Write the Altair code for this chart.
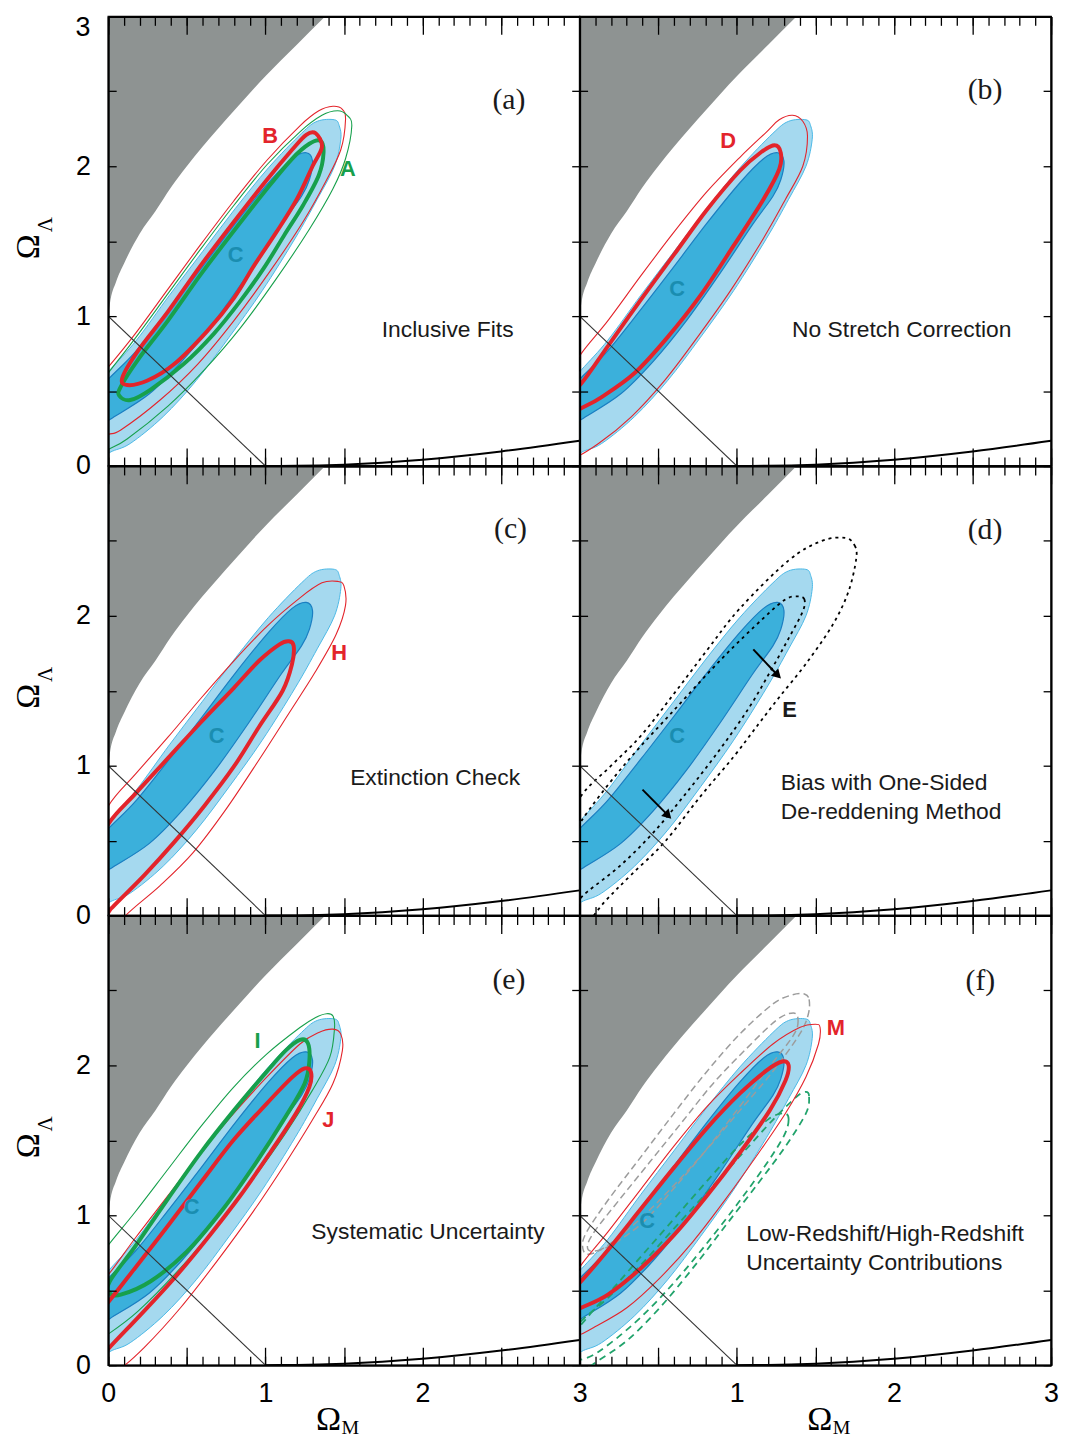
import altair as alt
import pandas as pd

W, H = 475, 453

GRAY = "#8e9392"
LIGHT = "#a5d9ef"
LIGHT_EDGE = "#4cb8e6"
DARK = "#3bb0db"
DARK_EDGE = "#1b7fc2"
RED = "#e3242b"
GREEN = "#17a04c"
CTEXT = "#1a8db0"
GDASH = "#9c9c9c"
GRDASH = "#21a36b"

# ---------------- data ----------------
BB_OM = [0.0, 0.01, 0.05, 0.1, 0.2, 0.3, 0.4, 0.5, 0.6, 0.8, 1.0, 1.2, 1.4, 1.45]
BB_OL = [1.0, 1.08, 1.23, 1.35, 1.55, 1.70, 1.86, 2.0, 2.13, 2.37, 2.60, 2.81, 3.02, 3.07]
RC_OM = [1.0, 1.2, 1.5, 2.0, 2.5, 3.0]
RC_OL = [0.0, 0.001, 0.009, 0.042, 0.097, 0.168]
FL_OM = [0.0, 1.0]
FL_OL = [1.0, 0.0]

C90_X = [1.44, 1.47, 1.48, 1.44, 1.33, 1.19, 0.98, 0.77, 0.56, 0.35, 0.14, 0.01, -0.10, -0.20, -0.15, 0.01, 0.18, 0.39, 0.60, 0.81, 1.02, 1.23, 1.33]
C90_Y = [2.31, 2.27, 2.18, 2.00, 1.78, 1.52, 1.17, 0.86, 0.57, 0.33, 0.15, 0.09, 0.00, 0.10, 0.45, 0.64, 0.84, 1.14, 1.43, 1.72, 1.99, 2.22, 2.30]
C68_X = [1.26, 1.30, 1.28, 1.23, 1.10, 0.89, 0.68, 0.47, 0.26, 0.01, -0.12, -0.20, -0.15, 0.01, 0.18, 0.39, 0.60, 0.81, 1.02, 1.17]
C68_Y = [2.09, 2.035, 1.91, 1.80, 1.61, 1.28, 0.97, 0.70, 0.48, 0.31, 0.22, 0.25, 0.42, 0.59, 0.77, 1.045, 1.33, 1.62, 1.89, 2.05]

B68_X = [1.32, 1.36, 1.30, 1.20, 1.07, 0.93, 0.80, 0.63, 0.42, 0.25, 0.12, 0.09, 0.19, 0.38, 0.59, 0.80, 1.01, 1.17, 1.26]
B68_Y = [2.22, 2.13, 2.00, 1.78, 1.56, 1.34, 1.12, 0.90, 0.68, 0.57, 0.54, 0.59, 0.77, 1.03, 1.34, 1.63, 1.91, 2.11, 2.21]
A68_X = [1.35, 1.37, 1.34, 1.24, 1.12, 0.99, 0.84, 0.67, 0.48, 0.27, 0.14, 0.07, 0.08, 0.19, 0.38, 0.59, 0.80, 1.01, 1.17, 1.28]
A68_Y = [2.17, 2.09, 1.94, 1.74, 1.54, 1.32, 1.10, 0.88, 0.68, 0.51, 0.44, 0.47, 0.53, 0.71, 0.97, 1.28, 1.57, 1.85, 2.05, 2.15]
B90_X = [1.43, 1.49, 1.51, 1.48, 1.38, 1.24, 1.03, 0.80, 0.57, 0.33, 0.08, 0.00, -0.10, -0.18, -0.12, 0.00, 0.17, 0.38, 0.59, 0.80, 1.01, 1.22, 1.34]
B90_Y = [2.40, 2.38, 2.31, 2.11, 1.89, 1.63, 1.30, 0.97, 0.68, 0.44, 0.24, 0.21, 0.15, 0.25, 0.52, 0.66, 0.88, 1.18, 1.48, 1.77, 2.04, 2.27, 2.37]
A90_X = [1.46, 1.52, 1.55, 1.51, 1.43, 1.28, 1.07, 0.84, 0.61, 0.38, 0.12, 0.00, -0.12, -0.20, -0.12, 0.00, 0.17, 0.38, 0.59, 0.80, 1.01, 1.22, 1.36]
A90_Y = [2.37, 2.34, 2.27, 2.05, 1.85, 1.58, 1.25, 0.92, 0.64, 0.40, 0.18, 0.11, 0.04, 0.15, 0.45, 0.62, 0.85, 1.15, 1.45, 1.74, 2.01, 2.23, 2.34]

D68_X = [1.24, 1.28, 1.27, 1.17, 0.98, 0.77, 0.56, 0.35, 0.14, 0.01, -0.10, -0.12, 0.01, 0.18, 0.39, 0.60, 0.81, 1.02, 1.15]
D68_Y = [2.14, 2.09, 1.98, 1.78, 1.47, 1.14, 0.86, 0.62, 0.46, 0.385, 0.33, 0.42, 0.55, 0.80, 1.11, 1.41, 1.71, 1.97, 2.09]
D90_X = [1.355, 1.42, 1.45, 1.42, 1.31, 1.17, 0.96, 0.75, 0.54, 0.33, 0.12, -0.05, -0.15, -0.10, 0.01, 0.18, 0.39, 0.60, 0.81, 1.02, 1.19, 1.27]
D90_Y = [2.34, 2.30, 2.20, 2.00, 1.78, 1.52, 1.17, 0.86, 0.57, 0.33, 0.15, 0.05, 0.10, 0.55, 0.75, 0.97, 1.27, 1.56, 1.83, 2.06, 2.23, 2.31]

H68_X = [1.15, 1.18, 1.17, 1.11, 0.96, 0.80, 0.61, 0.42, 0.23, 0.04, 0.00, -0.10, -0.20, -0.15, 0.00, 0.17, 0.38, 0.59, 0.80, 0.96, 1.09]
H68_Y = [1.83, 1.80, 1.68, 1.50, 1.26, 0.995, 0.73, 0.49, 0.27, 0.07, 0.02, -0.15, -0.10, 0.30, 0.61, 0.81, 1.05, 1.29, 1.52, 1.70, 1.81]
H90_X = [1.46, 1.50, 1.51, 1.45, 1.32, 1.15, 0.96, 0.75, 0.54, 0.33, 0.11, -0.05, -0.20, -0.15, 0.00, 0.17, 0.38, 0.59, 0.80, 1.01, 1.22, 1.36]
H90_Y = [2.23, 2.20, 2.07, 1.875, 1.63, 1.35, 1.04, 0.71, 0.42, 0.20, 0.00, -0.20, -0.15, 0.40, 0.73, 0.94, 1.19, 1.45, 1.70, 1.93, 2.12, 2.22]

E68_X = [1.39, 1.43, 1.42, 1.33, 1.23, 1.08, 0.89, 0.68, 0.47, 0.26, 0.05, -0.05, -0.15, -0.10, 0.01, 0.28, 0.60, 0.91, 1.17, 1.31]
E68_Y = [2.13, 2.11, 2.03, 1.85, 1.66, 1.39, 1.105, 0.82, 0.555, 0.335, 0.16, 0.07, 0.10, 0.40, 0.63, 1.00, 1.37, 1.72, 1.985, 2.11]
E90_X = [1.69, 1.75, 1.76, 1.71, 1.61, 1.44, 1.27, 1.14, 0.98, 0.77, 0.54, 0.325, 0.16, 0.00, -0.15, -0.15, 0.01, 0.20, 0.39, 0.60, 0.81, 1.02, 1.33, 1.54]
E90_Y = [2.52, 2.47, 2.38, 2.16, 1.94, 1.68, 1.457, 1.28, 1.06, 0.797, 0.49, 0.269, 0.093, -0.10, -0.10, 0.50, 0.80, 1.00, 1.20, 1.48, 1.77, 2.05, 2.37, 2.50]
ARROW_X1 = [1.105, 0.40]
ARROW_Y1 = [1.776, 0.84]
ARROW_X2 = [1.254, 0.556]
ARROW_Y2 = [1.61, 0.675]

I68_X = [1.22, 1.27, 1.28, 1.25, 1.13, 0.94, 0.73, 0.50, 0.27, 0.08, 0.01, 0.01, 0.17, 0.38, 0.59, 0.80, 1.01, 1.13]
I68_Y = [2.17, 2.15, 2.03, 1.88, 1.66, 1.35, 1.04, 0.757, 0.56, 0.47, 0.48, 0.56, 0.79, 1.11, 1.42, 1.70, 1.96, 2.10]
J68_X = [1.25, 1.29, 1.28, 1.195, 1.03, 0.84, 0.63, 0.42, 0.21, 0.00, -0.08, -0.12, -0.10, 0.00, 0.17, 0.38, 0.59, 0.80, 1.01, 1.17]
J68_Y = [1.98, 1.956, 1.857, 1.68, 1.417, 1.13, 0.845, 0.58, 0.34, 0.108, 0.00, 0.10, 0.30, 0.42, 0.647, 0.93, 1.22, 1.505, 1.747, 1.92]
I90_X = [1.39, 1.43, 1.44, 1.41, 1.30, 1.13, 0.92, 0.69, 0.44, 0.19, 0.00, -0.10, -0.15, -0.10, 0.00, 0.17, 0.38, 0.59, 0.80, 1.01, 1.22, 1.32]
I90_Y = [2.345, 2.33, 2.25, 2.055, 1.835, 1.55, 1.24, 0.93, 0.625, 0.36, 0.207, 0.15, 0.35, 0.65, 0.80, 1.02, 1.307, 1.593, 1.857, 2.077, 2.253, 2.32]
J90_X = [1.43, 1.48, 1.49, 1.43, 1.30, 1.13, 0.92, 0.69, 0.46, 0.23, 0.06, -0.10, -0.15, -0.10, 0.00, 0.17, 0.38, 0.59, 0.80, 1.01, 1.22, 1.34]
J90_Y = [2.242, 2.209, 2.099, 1.879, 1.637, 1.351, 1.021, 0.691, 0.383, 0.119, -0.035, -0.10, 0.10, 0.50, 0.603, 0.845, 1.131, 1.417, 1.681, 1.923, 2.143, 2.22]

M68_X = [1.29, 1.33, 1.31, 1.21, 1.02, 0.81, 0.60, 0.39, 0.18, 0.01, -0.10, -0.12, 0.01, 0.18, 0.39, 0.60, 0.81, 1.02, 1.19]
M68_Y = [2.026, 2.00, 1.90, 1.70, 1.417, 1.13, 0.867, 0.647, 0.471, 0.383, 0.33, 0.42, 0.561, 0.768, 1.043, 1.318, 1.582, 1.813, 1.967]
M90_X = [1.50, 1.53, 1.52, 1.44, 1.31, 1.14, 0.93, 0.72, 0.51, 0.30, 0.09, 0.01, -0.10, -0.12, -0.05, 0.01, 0.18, 0.39, 0.60, 0.81, 1.02, 1.23, 1.40]
M90_Y = [2.275, 2.253, 2.143, 1.923, 1.681, 1.417, 1.109, 0.823, 0.581, 0.383, 0.251, 0.207, 0.15, 0.35, 0.55, 0.669, 0.889, 1.175, 1.461, 1.725, 1.945, 2.143, 2.253]
LO90_X = [1.43, 1.46, 1.455, 1.40, 1.23, 1.02, 0.81, 0.60, 0.39, 0.18, 0.06, 0.02, 0.04, 0.18, 0.39, 0.60, 0.81, 1.02, 1.23, 1.35]
LO90_Y = [2.477, 2.44, 2.341, 2.209, 1.96, 1.70, 1.44, 1.20, 0.98, 0.80, 0.74, 0.78, 0.88, 1.10, 1.39, 1.68, 1.96, 2.21, 2.41, 2.47]
LO68_X = [1.36, 1.39, 1.36, 1.20, 1.00, 0.80, 0.60, 0.40, 0.20, 0.08, 0.05, 0.10, 0.25, 0.45, 0.65, 0.85, 1.05, 1.25]
LO68_Y = [2.35, 2.30, 2.20, 1.98, 1.70, 1.43, 1.18, 0.95, 0.80, 0.76, 0.80, 0.90, 1.10, 1.36, 1.62, 1.88, 2.10, 2.30]
HI90_X = [1.44, 1.46, 1.44, 1.31, 1.14, 0.93, 0.72, 0.51, 0.30, 0.09, -0.05, -0.15, -0.10, 0.01, 0.18, 0.39, 0.60, 0.81, 1.02, 1.23, 1.38]
HI90_Y = [1.824, 1.791, 1.68, 1.46, 1.219, 0.933, 0.647, 0.383, 0.163, 0.009, -0.10, -0.05, 0.15, 0.295, 0.449, 0.669, 0.911, 1.153, 1.395, 1.637, 1.79]
HI68_X = [1.30, 1.33, 1.30, 1.18, 1.00, 0.80, 0.60, 0.40, 0.20, 0.05, -0.05, -0.05, 0.05, 0.22, 0.42, 0.62, 0.82, 1.02, 1.20]
HI68_Y = [1.68, 1.64, 1.53, 1.33, 1.07, 0.80, 0.55, 0.33, 0.15, 0.05, 0.05, 0.18, 0.32, 0.52, 0.76, 1.00, 1.24, 1.47, 1.64]

XMINOR = [0.0, 0.1, 0.2, 0.3, 0.4, 0.5, 0.6, 0.7, 0.8, 0.9, 1.0, 1.1, 1.2, 1.3, 1.4, 1.5,
          1.6, 1.7, 1.8, 1.9, 2.0, 2.1, 2.2, 2.3, 2.4, 2.5, 2.6, 2.7, 2.8, 2.9, 3.0]
XMAJOR = [0.0, 0.5, 1.0, 1.5, 2.0, 2.5, 3.0]
YTICKS = [0.0, 0.5, 1.0, 1.5, 2.0, 2.5, 3.0]
XLAB_LEFT = [0, 1, 2, 3]
XLAB_RIGHT = [1, 2, 3]
YLAB = [0, 1, 2]
YLAB_TOPMOST = "3"

PX = W / 3.0
PY = H / 3.0


def sx():
    return alt.Scale(domain=[0, 3], nice=False, zero=False)


def sy():
    return alt.Scale(domain=[0, 3], nice=False, zero=False)


def XE(field="om", axis=None):
    return alt.X(f"{field}:Q", scale=sx(), axis=axis, title=None)


def YE(field="ol", axis=None):
    return alt.Y(f"{field}:Q", scale=sy(), axis=axis, title=None)


def contour(xs, ys, stroke, width, fill=None, dash=None):
    df = pd.DataFrame({"om": xs, "ol": ys, "i": list(range(len(xs)))})
    props = dict(stroke=stroke, strokeWidth=width, interpolate="cardinal-closed",
                 clip=True, strokeJoin="round")
    if fill is not None:
        props["fill"] = fill
    if dash is not None:
        props["strokeDash"] = dash
    return alt.Chart(df).mark_line(**props).encode(x=XE(), y=YE(), order=alt.Order("i:Q"))


def gray_region():
    df = pd.DataFrame({"om": BB_OM, "ol": BB_OL, "top": [3.0] * len(BB_OM)})
    return alt.Chart(df).mark_area(color=GRAY, clip=True, interpolate="monotone").encode(
        x=XE(), y=YE(), y2="top:Q")


def flat_line():
    df = pd.DataFrame({"om": FL_OM, "ol": FL_OL})
    return alt.Chart(df).mark_line(color="#333333", strokeWidth=1.1, clip=True).encode(x=XE(), y=YE())


def recollapse():
    df = pd.DataFrame({"om": RC_OM, "ol": RC_OL})
    return alt.Chart(df).mark_line(color="black", strokeWidth=2, clip=True,
                                   interpolate="monotone").encode(x=XE(), y=YE())


def label(txt, x, y, color="#1a1a1a", size=23, font="Liberation Sans", weight="normal",
          align="center", angle=0):
    df = pd.DataFrame({"om": [x], "ol": [y]})
    return alt.Chart(df).mark_text(text=txt, color=color, fontSize=size, font=font, angle=angle,
                                   fontWeight=weight, align=align, baseline="middle").encode(x=XE(), y=YE())


def letter(txt, x, y, color):
    return label(txt, x, y, color=color, size=22, weight="bold")


def pix_text(txt, px, py, size, angle=0, font="Liberation Serif", align="center"):
    # text placed at a pixel offset from the plot's top-left corner (through the scales)
    return label(txt, px / PX, 3 - py / PY, color="black", size=size,
                 font=font, angle=angle, align=align)


def tick_axis(orient, offset, values, size, domain=False):
    return alt.Axis(orient=orient, offset=offset, values=values, tickSize=size, labels=False,
                    domain=domain, domainColor="black", domainWidth=2, ticks=True, grid=False,
                    tickColor="black", tickWidth=1.3, title=None, zindex=1)


def axis_chart(channel, axis):
    # invisible carrier for an axis; its single point sits in the middle of the plot
    df = pd.DataFrame({"om": [1.5], "ol": [1.5]})
    if channel == "x":
        enc = dict(x=XE(axis=axis), y=YE())
    else:
        enc = dict(x=XE(), y=YE(axis=axis))
    return alt.Chart(df).mark_point(opacity=0, size=1).encode(**enc)


def axis_layers(row, col):
    out = [
        axis_chart("x", tick_axis("bottom", -H, XMINOR, 9, domain=True)),
        axis_chart("x", tick_axis("bottom", -H, XMAJOR, 18)),
        axis_chart("x", tick_axis("top", -H, XMINOR, 9, domain=True)),
        axis_chart("x", tick_axis("top", -H, XMAJOR, 18)),
        axis_chart("y", tick_axis("right", -W, YTICKS, 8, domain=True)),
        axis_chart("y", tick_axis("left", -W, YTICKS, 8, domain=True)),
    ]
    if row == 2:
        vals = XLAB_LEFT if col == 0 else XLAB_RIGHT
        out.append(axis_chart("x", alt.Axis(
            orient="bottom", values=vals, ticks=False, domain=False, grid=False,
            labelFont="Liberation Sans", labelFontSize=27, labelColor="black",
            labelPadding=16, labelOverlap=False, labelFlush=False, format="d", title=None)))
        ox = 222 if col == 0 else 242
        out.append(pix_text("Ω", ox, H + 55, 34))
        out.append(pix_text("M", ox + 22, H + 63, 20))
    if col == 0:
        out.append(axis_chart("y", alt.Axis(
            orient="left", values=YLAB, ticks=False, domain=False, grid=False,
            labelFont="Liberation Sans", labelFontSize=27, labelColor="black",
            labelPadding=18, labelOverlap=False, labelFlush=False, format="d", title=None)))
        if row == 0:
            out.append(pix_text(YLAB_TOPMOST, -18, 12, 27, font="Liberation Sans", align="right"))
        out.append(pix_text("Ω", -80, 232, 34, angle=270))
        out.append(pix_text("Λ", -63, 210, 21, angle=270))
    return out


def panel(row, col, overlays, texts):
    layers = [gray_region(),
              contour(C90_X, C90_Y, LIGHT_EDGE, 1.0, fill=LIGHT),
              contour(C68_X, C68_Y, DARK_EDGE, 1.2, fill=DARK)]
    layers += overlays
    layers += [flat_line(), recollapse()]
    layers += texts
    layers += axis_layers(row, col)
    return alt.layer(*layers).properties(width=W, height=H).resolve_axis(x="independent", y="independent")


THICK, THIN = 4, 1.1

pa = panel(0, 0, [
    contour(B90_X, B90_Y, RED, THIN),
    contour(A90_X, A90_Y, GREEN, THIN),
    contour(A68_X, A68_Y, GREEN, THICK),
    contour(B68_X, B68_Y, RED, THICK),
], [
    label("(a)", 2.55, 2.44, size=30, font="Liberation Serif"),
    label("Inclusive Fits", 2.16, 0.91),
    letter("B", 1.03, 2.20, RED),
    letter("A", 1.525, 1.98, GREEN),
    letter("C", 0.81, 1.41, CTEXT),
])

pb = panel(0, 1, [
    contour(D90_X, D90_Y, RED, THIN),
    contour(D68_X, D68_Y, RED, THICK),
], [
    label("(b)", 2.58, 2.51, size=30, font="Liberation Serif"),
    label("No Stretch Correction", 2.05, 0.91),
    letter("D", 0.945, 2.17, RED),
    letter("C", 0.62, 1.18, CTEXT),
])

pc = panel(1, 0, [
    contour(H90_X, H90_Y, RED, THIN),
    contour(H68_X, H68_Y, RED, THICK),
], [
    label("(c)", 2.56, 2.58, size=30, font="Liberation Serif"),
    label("Extinction Check", 2.08, 0.92),
    letter("H", 1.47, 1.755, RED),
    letter("C", 0.69, 1.195, CTEXT),
])

arrows_df = pd.DataFrame({"x1": ARROW_X1, "y1": ARROW_Y1, "x2": ARROW_X2, "y2": ARROW_Y2})
arrow_lines = alt.Chart(arrows_df).mark_rule(color="black", strokeWidth=2).encode(
    x=XE("x1"), y=YE("y1"), x2="x2:Q", y2="y2:Q")
arrow_heads = alt.Chart(arrows_df).mark_point(shape="triangle", angle=135, filled=True,
                                              color="black", size=110, opacity=1).encode(
    x=XE("x2"), y=YE("y2"))

pd_ = panel(1, 1, [
    contour(E68_X, E68_Y, "black", 1.8, dash=[3, 4]),
    contour(E90_X, E90_Y, "black", 1.8, dash=[3, 4]),
    arrow_lines, arrow_heads,
], [
    label("(d)", 2.58, 2.57, size=30, font="Liberation Serif"),
    label("Bias with One-Sided", 1.28, 0.885, align="left"),
    label("De-reddening Method", 1.28, 0.693, align="left"),
    letter("E", 1.335, 1.37, "#1a1a1a"),
    letter("C", 0.62, 1.20, CTEXT),
])

pe = panel(2, 0, [
    contour(I90_X, I90_Y, GREEN, THIN),
    contour(J90_X, J90_Y, RED, THIN),
    contour(I68_X, I68_Y, GREEN, THICK),
    contour(J68_X, J68_Y, RED, THICK),
], [
    label("(e)", 2.55, 2.57, size=30, font="Liberation Serif"),
    label("Systematic Uncertainty", 2.035, 0.885),
    letter("I", 0.95, 2.165, GREEN),
    letter("J", 1.40, 1.637, RED),
    letter("C", 0.53, 1.056, CTEXT),
])

pf = panel(2, 1, [
    contour(LO90_X, LO90_Y, GDASH, 1.5, dash=[7, 4]),
    contour(LO68_X, LO68_Y, GDASH, 1.5, dash=[7, 4]),
    contour(HI90_X, HI90_Y, GRDASH, 1.8, dash=[7, 5]),
    contour(HI68_X, HI68_Y, GRDASH, 1.8, dash=[7, 5]),
    contour(M90_X, M90_Y, RED, THIN),
    contour(M68_X, M68_Y, RED, THICK),
], [
    label("(f)", 2.55, 2.56, size=30, font="Liberation Serif"),
    label("Low-Redshift/High-Redshift", 1.06, 0.878, align="left"),
    label("Uncertainty Contributions", 1.06, 0.68, align="left"),
    letter("M", 1.63, 2.25, RED),
    letter("C", 0.43, 0.964, CTEXT),
])

chart = alt.concat(pa, pb, pc, pd_, pe, pf, columns=2, spacing=0, bounds="flush").properties(
    padding={"left": 3, "top": 0, "right": 0, "bottom": 0}
).configure_view(stroke="black", strokeWidth=1.5)

chart.save("out.html", embed_options={"renderer": "svg", "actions": False})
